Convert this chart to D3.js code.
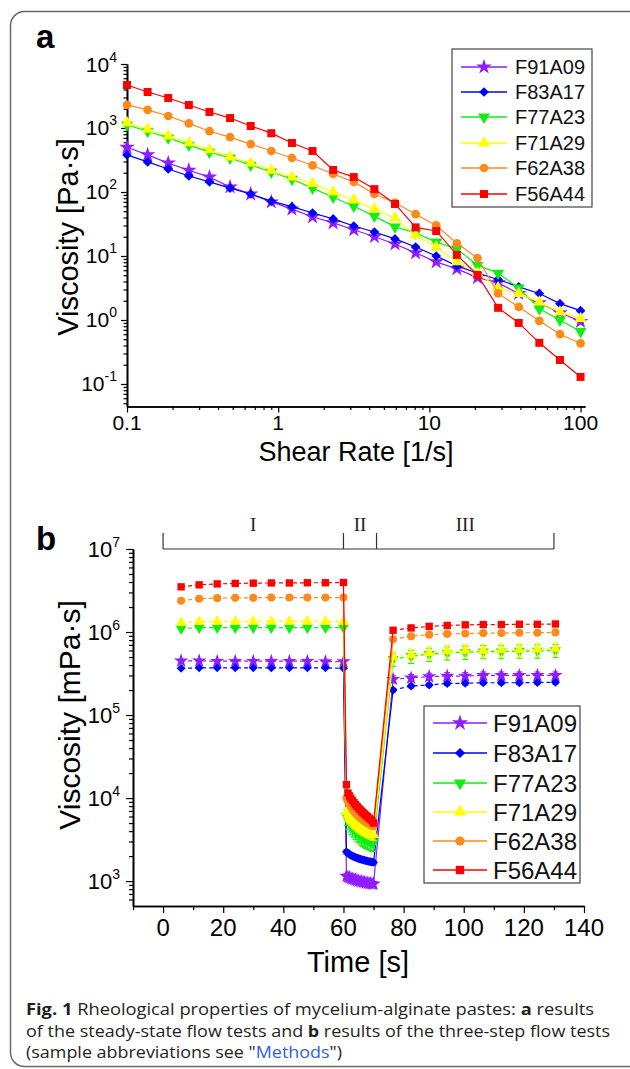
<!DOCTYPE html>
<html>
<head>
<meta charset="utf-8">
<style>
  body { margin: 0; background: #fff; }
  svg { display: block; font-family: "Liberation Sans", Arial, sans-serif; }
</style>
</head>
<body>
<script src="https://cdn.jsdelivr.net/npm/d3@7"></script>
<script>
const W = 630, H = 1069;

// samples, in legend order
const samples = ["F91A09", "F83A17", "F77A23", "F71A29", "F62A38", "F56A44"];

// ---- panel a: steady-state flow (viscosity in Pa·s) ----
const shearRate = [0.1, 0.1369, 0.1874, 0.2565, 0.3511, 0.4806, 0.6579, 0.9006, 1.233, 1.688, 2.310, 3.162,
                   4.329, 5.926, 8.111, 11.10, 15.20, 20.81, 28.48, 38.99, 53.37, 73.06, 100];
const steadyVisc = [
  [500, 380, 283, 219, 171, 120, 93, 70, 54, 41, 33, 25.7, 20, 15.4, 11.2, 8.1, 6.3, 4.6, 3.8, 2.6, 1.86, 1.3, 0.95],   // F91A09
  [380, 295, 229, 178, 144, 115, 93, 72, 59, 47, 38, 29.4, 23.7, 18.5, 13.8, 10, 7.0, 5.4, 4.3, 3.3, 2.6, 1.8, 1.4],    // F83A17
  [1120, 890, 700, 540, 420, 340, 263, 205, 158, 115, 83, 60, 42, 28.5, 23, 16.5, 12.9, 7.2, 5.4, 3.16, 1.5, 1.0, 0.66], // F77A23
  [1210, 955, 750, 585, 455, 353, 283, 219, 171, 135, 100, 75, 54, 39, 21, 13.8, 8.1, 5.4, 3.16, 2.6, 1.9, 1.33, 1.05],  // F71A29
  [2300, 1920, 1540, 1180, 890, 720, 560, 437, 340, 260, 191, 144, 93, 68, 45, 30, 15.8, 9.3, 2.6, 1.6, 0.97, 0.6, 0.43], // F62A38
  [4700, 3650, 2940, 2290, 1780, 1430, 1075, 830, 583, 437, 221, 171, 111, 65, 28, 24.6, 10.4, 5.05, 1.55, 0.9, 0.44, 0.237, 0.129] // F56A44
];
const shearTicks = [0.1, 1, 10, 100];
const viscTicksA = [0.1, 1, 10, 100, 1000, 10000];

// ---- panel b: three-step flow (viscosity in mPa·s) ----
const timeI = [6, 12, 18, 24, 30, 36, 42, 48, 54, 60];
const timeII = [61, 61.5, 62, 62.5, 63, 63.5, 64, 64.5, 65, 65.5, 66, 66.5, 67, 67.5, 68, 68.5, 69, 69.5, 70];
const timeIII = [76.5, 82.5, 88.5, 94.5, 100.5, 106.5, 112.5, 118.5, 124.5, 130.5];
const stepI = [
  [4.5e5, 4.5e5, 4.45e5, 4.45e5, 4.45e5, 4.45e5, 4.45e5, 4.45e5, 4.4e5, 4.4e5],
  [3.65e5, 3.7e5, 3.7e5, 3.7e5, 3.7e5, 3.7e5, 3.7e5, 3.7e5, 3.7e5, 3.65e5],
  [1.1e6, 1.13e6, 1.13e6, 1.13e6, 1.13e6, 1.13e6, 1.13e6, 1.13e6, 1.13e6, 1.13e6],
  [1.3e6, 1.33e6, 1.34e6, 1.34e6, 1.34e6, 1.34e6, 1.34e6, 1.34e6, 1.34e6, 1.34e6],
  [2.38e6, 2.52e6, 2.56e6, 2.58e6, 2.58e6, 2.6e6, 2.6e6, 2.6e6, 2.6e6, 2.6e6],
  [3.5e6, 3.7e6, 3.8e6, 3.85e6, 3.88e6, 3.9e6, 3.9e6, 3.92e6, 3.92e6, 3.95e6]
];
const stepII = [
  [1150, 1120, 1100, 1080, 1060, 1050, 1035, 1020, 1005, 995, 985, 975, 965, 955, 948, 940, 932, 925, 920],
  [2250, 2160, 2100, 2050, 2000, 1960, 1930, 1900, 1870, 1845, 1820, 1800, 1780, 1760, 1740, 1725, 1710, 1695, 1680],
  [6000, 5400, 5000, 4700, 4450, 4250, 4050, 3880, 3720, 3580, 3460, 3350, 3250, 3170, 3100, 3040, 2980, 2930, 2900],
  [6800, 6200, 5800, 5500, 5250, 5030, 4830, 4660, 4510, 4380, 4260, 4150, 4050, 3960, 3880, 3800, 3730, 3660, 3600],
  [10000, 9200, 8500, 7900, 7400, 7000, 6650, 6350, 6080, 5850, 5650, 5470, 5300, 5150, 5020, 4900, 4780, 4680, 4600],
  [14500, 11500, 10600, 9900, 9300, 8800, 8350, 7950, 7580, 7250, 6950, 6680, 6420, 6180, 5950, 5740, 5540, 5350, 5000]
];
const stepIII = [
  [2.7e5, 2.8e5, 2.9e5, 2.95e5, 2.95e5, 3.0e5, 3.0e5, 3.0e5, 3.0e5, 3.0e5],
  [2.0e5, 2.24e5, 2.3e5, 2.4e5, 2.42e5, 2.45e5, 2.45e5, 2.45e5, 2.47e5, 2.48e5],
  [4.7e5, 5.1e5, 5.4e5, 5.6e5, 5.7e5, 5.8e5, 5.8e5, 5.9e5, 5.9e5, 6.0e5],
  [5.0e5, 5.3e5, 5.6e5, 5.9e5, 6.0e5, 6.0e5, 6.1e5, 6.1e5, 6.2e5, 6.3e5],
  [8.2e5, 8.9e5, 9.3e5, 9.5e5, 9.6e5, 9.7e5, 9.7e5, 9.8e5, 9.8e5, 9.9e5],
  [1.05e6, 1.12e6, 1.17e6, 1.2e6, 1.22e6, 1.23e6, 1.23e6, 1.24e6, 1.24e6, 1.25e6]
];
// relative error (fraction of value) per sample
const errII = [0.08, 0.06, 0.22, 0.14, 0.08, 0.06];
const errIII = [0.1, 0.05, 0.18, 0.18, 0.05, 0.04];
const timeTicks = [0, 20, 40, 60, 80, 100, 120, 140];
const viscTicksB = [1e3, 1e4, 1e5, 1e6, 1e7];
const stepEdges = [0, 60, 71, 130];
const stepNames = ["I", "II", "III"];

// styles
const colors = ["#8f1dff", "#0000ff", "#11ee11", "#ffff00", "#ff8a1c", "#ff0000"];
const shapes = ["star", "diamond", "triDown", "triUp", "circle", "square"];
const symType = {
  star: d3.symbolStar, diamond: d3.symbolDiamond2 || d3.symbolDiamond,
  triDown: d3.symbolTriangle, triUp: d3.symbolTriangle,
  circle: d3.symbolCircle, square: d3.symbolSquare
};
const symSize = { star: 75, diamond: 60, triDown: 62, triUp: 62, circle: 60, square: 64 };

const svg = d3.select("body").append("svg").attr("width", W).attr("height", H);

svg.append("rect")
   .attr("x", 10.5).attr("y", 11.5).attr("width", 660).attr("height", 1055).attr("rx", 14)
   .attr("fill", "none").attr("stroke", "#6a6a6a").attr("stroke-width", 1.5);

function marker(g, i, x, y, f) {
  const s = shapes[i];
  g.append("path")
   .attr("d", d3.symbol(symType[s], symSize[s] * f)())
   .attr("transform", `translate(${x},${y})` + (s === "triDown" ? " rotate(180)" : ""))
   .attr("fill", colors[i]);
}

function logLabel(sel, v, sup) {
  const e = Math.round(Math.log10(v));
  sel.append("tspan").text("10");
  sel.append("tspan").attr("dy", -sup).attr("font-size", 14).text(e);
}

function isPow10(d) { return Math.abs(Math.log10(d) - Math.round(Math.log10(d))) < 1e-9; }

function axes(g, x, y, xMaj, xMin, yMaj, yMin, majLen, minLen) {
  const x0 = x.range()[0], y0 = y.range()[0];
  const gy = g.append("g").attr("transform", `translate(${x0},0)`);
  gy.append("g").call(d3.axisLeft(y).tickValues(yMin).tickSize(minLen).tickSizeOuter(0).tickFormat(""));
  gy.append("g").call(d3.axisLeft(y).tickValues(yMaj).tickSize(majLen).tickSizeOuter(0).tickFormat(""));
  const gx = g.append("g").attr("transform", `translate(0,${y0})`);
  gx.append("g").call(d3.axisBottom(x).tickValues(xMin).tickSize(minLen).tickSizeOuter(0).tickFormat(""));
  gx.append("g").call(d3.axisBottom(x).tickValues(xMaj).tickSize(majLen).tickSizeOuter(0).tickFormat(""));
  g.selectAll("path.domain").attr("stroke", "#000").attr("stroke-width", 1.6);
  g.selectAll(".tick line").attr("stroke", "#000").attr("stroke-width", 1.2);
}

function legend(g, x0, y0, w, h, rowY, lx0, lx1, tx, fs, f) {
  g.append("rect").attr("x", x0).attr("y", y0).attr("width", w).attr("height", h)
   .attr("fill", "#fff").attr("stroke", "#444").attr("stroke-width", 1.2);
  samples.forEach((s, i) => {
    const cy = rowY[i];
    g.append("line").attr("x1", lx0).attr("x2", lx1).attr("y1", cy).attr("y2", cy)
     .attr("stroke", colors[i]).attr("stroke-width", 1.3);
    marker(g, i, (lx0 + lx1) / 2, cy, f);
    g.append("text").attr("x", tx).attr("y", cy + fs * 0.36).attr("font-size", fs).attr("fill", "#111").text(s);
  });
}

// ================= panel a =================
const ga = svg.append("g");
const xA = d3.scaleLog().domain([0.1, 107]).range([127, 585]);
const yA = d3.scaleLog().domain([0.0445, 1e4]).range([406.5, 64]);

axes(ga, xA, yA, shearTicks, xA.ticks().filter(d => !isPow10(d)),
     viscTicksA, yA.ticks().filter(d => !isPow10(d)), 6, 3.5);

ga.selectAll(".ylab").data(viscTicksA).join("text")
  .attr("x", 117).attr("y", d => yA(d) + 7.5).attr("text-anchor", "end").attr("font-size", 21)
  .each(function(d) { logLabel(d3.select(this), d, 10); });
ga.selectAll(".xlab").data(shearTicks).join("text")
  .attr("x", d => xA(d)).attr("y", 430).attr("text-anchor", "middle").attr("font-size", 21)
  .text(d => String(d));

ga.append("text").attr("x", 356).attr("y", 461).attr("text-anchor", "middle").attr("font-size", 27)
  .text("Shear Rate [1/s]");
ga.append("text").attr("transform", "translate(78,237) rotate(-90)").attr("text-anchor", "middle")
  .attr("font-size", 29).text("Viscosity [Pa·s]");
ga.append("text").attr("x", 36).attr("y", 48).attr("font-size", 33).attr("font-weight", "bold").text("a");

const lineA = d3.line().x(d => xA(d[0])).y(d => yA(d[1]));
steadyVisc.forEach((vals, i) => {
  const pts = shearRate.map((x, k) => [x, vals[k]]);
  ga.append("path").attr("d", lineA(pts)).attr("fill", "none")
    .attr("stroke", colors[i]).attr("stroke-width", 1.2);
  pts.forEach(p => marker(ga, i, xA(p[0]), yA(p[1]), 1));
});

legend(ga, 452, 49, 140, 158, [67, 92, 117, 143, 168, 194], 461, 507, 515, 20, 1);

// ================= panel b =================
const gb = svg.append("g");
const xB = d3.scaleLinear().domain([-10, 140]).range([133, 584]);
const yB = d3.scaleLog().domain([Math.pow(10, 2.7), 1e7]).range([906, 549]);

axes(gb, xB, yB, timeTicks, d3.range(-10, 140, 20),
     viscTicksB, yB.ticks().filter(d => !isPow10(d)), 7, 4);

gb.selectAll(".ylab").data(viscTicksB).join("text")
  .attr("x", 120).attr("y", d => yB(d) + 8).attr("text-anchor", "end").attr("font-size", 22)
  .each(function(d) { logLabel(d3.select(this), d, 10); });
gb.selectAll(".xlab").data(timeTicks).join("text")
  .attr("x", d => xB(d)).attr("y", 936).attr("text-anchor", "middle").attr("font-size", 24)
  .text(d => d);

gb.append("text").attr("x", 358).attr("y", 972).attr("text-anchor", "middle").attr("font-size", 29)
  .text("Time [s]");
gb.append("text").attr("transform", "translate(80,715) rotate(-90)").attr("text-anchor", "middle")
  .attr("font-size", 30).text("Viscosity [mPa·s]");
gb.append("text").attr("x", 36).attr("y", 550).attr("font-size", 33).attr("font-weight", "bold").text("b");

// step bracket
const br = gb.append("g").attr("stroke", "#333").attr("stroke-width", 1.2);
br.append("line").attr("x1", xB(stepEdges[0])).attr("x2", xB(stepEdges[3])).attr("y1", 549).attr("y2", 549);
stepEdges.forEach(t => br.append("line").attr("x1", xB(t)).attr("x2", xB(t)).attr("y1", 549).attr("y2", 533));
stepNames.forEach((n, k) => {
  gb.append("text").attr("x", xB((stepEdges[k] + stepEdges[k + 1]) / 2)).attr("y", 531)
    .attr("text-anchor", "middle").attr("font-family", "'Liberation Serif', 'Times New Roman', serif")
    .attr("font-size", 19).attr("fill", "#222").text(n);
});

const lineB = d3.line().x(d => xB(d[0])).y(d => yB(d[1]));
function errBars(g, i, pts, rel) {
  pts.forEach(p => {
    const x = xB(p[0]), yt = yB(p[1] * (1 + rel)), yb = yB(p[1] * (1 - rel));
    g.append("line").attr("x1", x).attr("x2", x).attr("y1", yt).attr("y2", yb)
     .attr("stroke", colors[i]).attr("stroke-width", 1);
    [yt, yb].forEach(yy => g.append("line").attr("x1", x - 3).attr("x2", x + 3).attr("y1", yy).attr("y2", yy)
     .attr("stroke", colors[i]).attr("stroke-width", 1));
  });
}
samples.forEach((s, i) => {
  const p1 = timeI.map((t, k) => [t, stepI[i][k]]);
  const p2 = timeII.map((t, k) => [t, stepII[i][k]]);
  const p3 = timeIII.map((t, k) => [t, stepIII[i][k]]);
  const g = gb.append("g");
  g.append("path").attr("d", lineB(p1)).attr("fill", "none").attr("stroke", colors[i])
   .attr("stroke-width", 1.2).attr("stroke-dasharray", "4,3");
  g.append("path").attr("d", lineB([p1[p1.length - 1], ...p2, p3[0]])).attr("fill", "none")
   .attr("stroke", colors[i]).attr("stroke-width", 1.2);
  g.append("path").attr("d", lineB(p3)).attr("fill", "none").attr("stroke", colors[i])
   .attr("stroke-width", 1.2).attr("stroke-dasharray", "4,3");
  errBars(g, i, p2, errII[i]);
  errBars(g, i, p3, errIII[i]);
  [...p1, ...p2, ...p3].forEach(p => marker(g, i, xB(p[0]), yB(p[1]), 0.85));
});

legend(gb, 424, 706, 156, 177, [723, 753, 783, 812, 841, 870], 433, 487, 493, 24, 1.1);

// ================= caption =================
const cap = svg.append("g").attr("font-family", "'Open Sans', 'Noto Sans', sans-serif")
  .attr("font-size", 16).attr("fill", "#231f20");
const l1 = cap.append("text").attr("x", 26).attr("y", 1015).attr("textLength", 568).attr("lengthAdjust", "spacingAndGlyphs");
l1.append("tspan").attr("font-weight", "bold").text("Fig. 1");
l1.append("tspan").text("  Rheological properties of mycelium-alginate pastes: ");
l1.append("tspan").attr("font-weight", "bold").text("a");
l1.append("tspan").text(" results");
const l2 = cap.append("text").attr("x", 26).attr("y", 1037).attr("textLength", 584).attr("lengthAdjust", "spacingAndGlyphs");
l2.append("tspan").text("of the steady-state flow tests and ");
l2.append("tspan").attr("font-weight", "bold").text("b");
l2.append("tspan").text(" results of the three-step flow tests");
const l3 = cap.append("text").attr("x", 26).attr("y", 1058).attr("textLength", 316).attr("lengthAdjust", "spacingAndGlyphs");
l3.append("tspan").text("(sample abbreviations see \"");
l3.append("tspan").attr("fill", "#2f5fe0").text("Methods");
l3.append("tspan").text("\")");
</script>
</body>
</html>
